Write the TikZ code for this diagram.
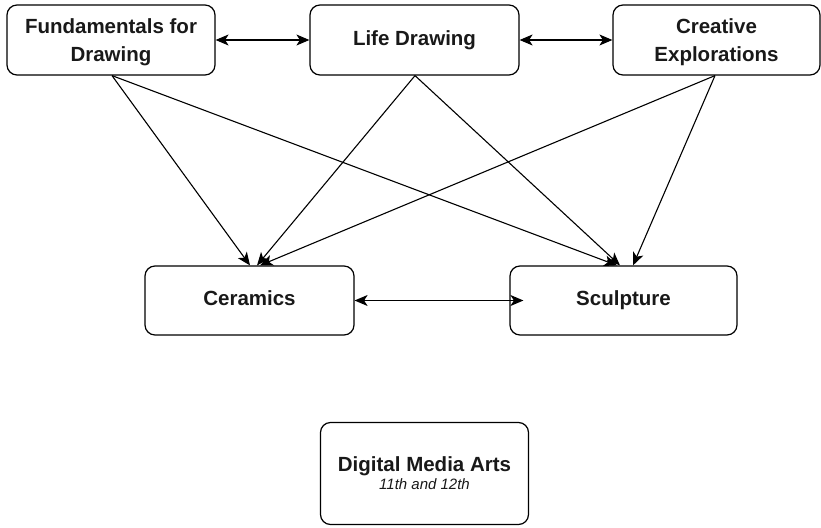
\documentclass[tikz,border=0pt]{standalone}
\usepackage{fontspec}
\setmainfont{Liberation Sans}
\usetikzlibrary{arrows.meta,calc}
\begin{document}
\begin{tikzpicture}[x=1pt,y=-1pt,
  box/.style={draw=black, line width=1.2pt, rounded corners=10pt, fill=white,
    align=center, inner sep=0pt, text=black!90,
    font=\fontsize{20.5}{28}\selectfont\bfseries},
  twoline/.style={text depth=0pt},
  oneline/.style={text height=15pt, text depth=4.3pt},
  conn/.style={draw=black, line width=1.1pt, -{Stealth[length=13pt,width=11pt,inset=3.5pt]}},
  biconn/.style={draw=black, line width=1.1pt, {Stealth[length=13pt,width=11pt,inset=3.5pt]}-{Stealth[length=13pt,width=11pt,inset=3.5pt]}}
]
\useasboundingbox (0,0) rectangle (821,527);
\node[box, twoline, minimum width=208pt, minimum height=70pt] (fund) at (111,40) {Fundamentals for\\Drawing};
\node[box, oneline, minimum width=209pt, minimum height=70pt] (life) at (414.5,40) {Life Drawing};
\node[box, twoline, minimum width=207pt, minimum height=70pt] (crea) at (716.5,40) {Creative\\Explorations};
\node[box, oneline, minimum width=209pt, minimum height=69pt] (cer) at (249.5,300.5) {Ceramics};
\node[box, oneline, minimum width=227pt, minimum height=69pt] (scu) at (623.5,300.5) {Sculpture};
\node[box, minimum width=208pt, minimum height=102pt] (dma) at (424.5,473.5) {Digital Media Arts\\[-10pt]{\fontsize{15}{18}\selectfont\mdseries\itshape 11th and 12th}};

\draw[biconn] (fund.east) -- (life.west);
\draw[biconn] (life.east) -- (crea.west);
\draw[biconn] (cer.east) -- ($(scu.west)+(14,0)$);

\draw[conn] ($(fund.south)+(1,0)$) -- ($(cer.north)+(0.5,0)$);
\draw[conn] ($(fund.south)+(1,0)$) -- ($(scu.north)+(-6.5,0)$);
\draw[conn] ($(life.south)+(0.5,0)$) -- ($(cer.north)+(7.5,0)$);
\draw[conn] ($(life.south)+(0.5,0)$) -- ($(scu.north)+(-3.5,0)$);
\draw[conn] ($(crea.south)+(-1.5,0)$) -- ($(cer.north)+(10.5,0)$);
\draw[conn] ($(crea.south)+(-1.5,0)$) -- ($(scu.north)+(9.5,0)$);
\end{tikzpicture}
\end{document}
